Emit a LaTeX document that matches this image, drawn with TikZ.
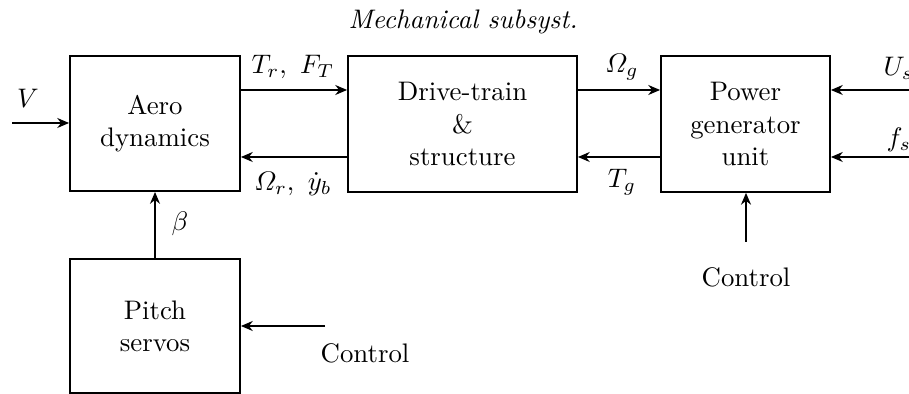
\documentclass[tikz,border=0pt]{standalone}
\usepackage{amsmath}
\usetikzlibrary{arrows.meta}
\begin{document}
\begin{tikzpicture}[x=0.0131cm,y=-0.0131cm,
  blk/.style={draw,line width=0.7pt,align=center,inner sep=0pt,minimum width=#1},
  sig/.style={line width=0.7pt,-{Stealth[length=4.4pt,width=3.7pt,inset=1.4pt]}},
  lbl/.style={inner sep=0pt}]
\useasboundingbox (0,0) rectangle (909,394);
\node[blk=2.227cm,minimum height=1.77cm] (aero) at (155,123.5) {Aero\\dynamics};
\node[blk=3.0cm,minimum height=1.78cm] (drive) at (462.5,124) {Drive-train\\\&\\structure};
\node[blk=2.214cm,minimum height=1.78cm] (power) at (745.5,124) {Power\\generator\\unit};
\node[blk=2.227cm,minimum height=1.755cm] (pitch) at (155,326) {Pitch\\servos};
\node[lbl] (mech) at (463,22) {\textit{Mechanical subsyst.}};
\coordinate (vin) at (12,123);
\coordinate (usin) at (912,90);
\coordinate (fsin) at (912,157);
\coordinate (pctl) at (746,242);
\coordinate (sctl) at (325,326);
\draw[sig] (vin) -- (vin -| aero.west);
\draw[sig] (aero.east |- 0,90) -- (drive.west |- 0,90);
\draw[sig] (drive.west |- 0,157) -- (aero.east |- 0,157);
\draw[sig] (drive.east |- 0,90) -- (power.west |- 0,90);
\draw[sig] (power.west |- 0,157) -- (drive.east |- 0,157);
\draw[sig] (usin) -- (usin -| power.east);
\draw[sig] (fsin) -- (fsin -| power.east);
\draw[sig] (pctl) -- (pctl |- power.south);
\draw[sig] (pitch.north) -- (aero.south);
\draw[sig] (sctl) -- (sctl -| pitch.east);
\node[lbl] (lv) at (28,98) {$V$};
\node[lbl] (ltr) at (293,67) {$T_r,\ F_T$};
\node[lbl] (lor) at (293,184) {$\varOmega_r,\ \dot{y}_b$};
\node[lbl] (log) at (622,67) {$\varOmega_g$};
\node[lbl] (ltg) at (622,182) {$T_g$};
\node[lbl,anchor=west] (lus) at (883,68) {$U_s$};
\node[lbl,anchor=west] (lfs) at (886,140) {$f_s$};
\node[lbl] (lb) at (180,224) {$\beta$};
\node[lbl] (lpc) at (746,277) {Control};
\node[lbl] (lsc) at (365,353) {Control};
\end{tikzpicture}
\end{document}
